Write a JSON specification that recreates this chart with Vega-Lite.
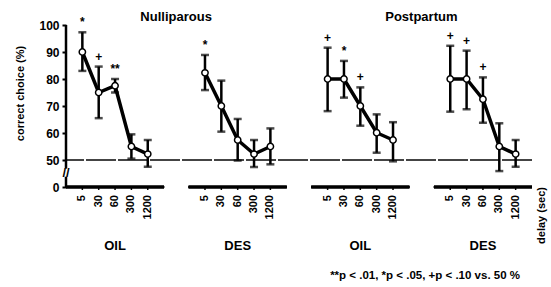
{
  "$schema": "https://vega.github.io/schema/vega-lite/v6.json",
  "autosize": {"type": "none"},
  "padding": {"left": 66, "top": 25, "right": 19, "bottom": 100},
  "width": 466,
  "height": 162,
  "background": "white",
  "config": {"view": {"stroke": null}, "font": "Liberation Sans"},
  "title": {"text": "**p < .01, *p < .05, +p < .10 vs. 50 %", "orient": "bottom", "anchor": "end", "frame": "group", "fontSize": 11.5, "fontWeight": "bold", "offset": 18, "dx": -12, "color": "black"},
  "data": {"values": [
    {"group": "Nulliparous OIL", "delay": 5, "mean": 90, "lo": 83, "hi": 97.3, "sig": "*"},
    {"group": "Nulliparous OIL", "delay": 30, "mean": 75, "lo": 65.5, "hi": 84.6, "sig": "+"},
    {"group": "Nulliparous OIL", "delay": 60, "mean": 77.5, "lo": 75, "hi": 80, "sig": "**"},
    {"group": "Nulliparous OIL", "delay": 300, "mean": 55, "lo": 50.5, "hi": 59.5, "sig": ""},
    {"group": "Nulliparous OIL", "delay": 1200, "mean": 52.2, "lo": 47.5, "hi": 57.4, "sig": ""},
    {"group": "Nulliparous DES", "delay": 5, "mean": 82.3, "lo": 75.9, "hi": 88.9, "sig": "*"},
    {"group": "Nulliparous DES", "delay": 30, "mean": 70, "lo": 60.5, "hi": 79.4, "sig": ""},
    {"group": "Nulliparous DES", "delay": 60, "mean": 57.4, "lo": 49.8, "hi": 65.2, "sig": ""},
    {"group": "Nulliparous DES", "delay": 300, "mean": 52.2, "lo": 47.4, "hi": 57.4, "sig": ""},
    {"group": "Nulliparous DES", "delay": 1200, "mean": 55, "lo": 48.4, "hi": 61.7, "sig": ""},
    {"group": "Postpartum OIL", "delay": 5, "mean": 80, "lo": 68.1, "hi": 91.6, "sig": "+"},
    {"group": "Postpartum OIL", "delay": 30, "mean": 80, "lo": 73.1, "hi": 86.7, "sig": "*"},
    {"group": "Postpartum OIL", "delay": 60, "mean": 70, "lo": 62.7, "hi": 76.9, "sig": "+"},
    {"group": "Postpartum OIL", "delay": 300, "mean": 60.1, "lo": 52.7, "hi": 66.9, "sig": ""},
    {"group": "Postpartum OIL", "delay": 1200, "mean": 57.4, "lo": 49.5, "hi": 64, "sig": ""},
    {"group": "Postpartum DES", "delay": 5, "mean": 80, "lo": 67.9, "hi": 92.3, "sig": "+"},
    {"group": "Postpartum DES", "delay": 30, "mean": 80, "lo": 68.8, "hi": 90.5, "sig": "+"},
    {"group": "Postpartum DES", "delay": 60, "mean": 72.5, "lo": 63.8, "hi": 80.6, "sig": "+"},
    {"group": "Postpartum DES", "delay": 300, "mean": 55, "lo": 45.9, "hi": 63.6, "sig": ""},
    {"group": "Postpartum DES", "delay": 1200, "mean": 52.2, "lo": 47.5, "hi": 57.4, "sig": ""}
  ]},
  "encoding": {
    "x": {"field": "group", "type": "nominal", "sort": ["Nulliparous OIL", "Nulliparous DES", "Postpartum OIL", "Postpartum DES"],
      "scale": {"type": "band", "paddingInner": 0.2, "paddingOuter": 0},
      "axis": {"domain": false, "ticks": false, "labelExpr": "split(datum.value, ' ')[1]", "labelPadding": 52, "labelFontSize": 13, "labelFontWeight": "bold", "labelColor": "black", "labelAngle": 0,
        "title": "delay (sec)", "titleAngle": 270, "titleX": 475, "titleY": 28, "titleAlign": "center", "titleBaseline": "middle", "titleFontSize": 11, "titleFontWeight": "bold", "titleColor": "black"}},
    "y": {"type": "quantitative", "scale": {"domain": [40, 100], "nice": false, "zero": false},
      "axis": {"domain": false, "grid": false, "values": [40, 50, 60, 70, 80, 90, 100], "labelExpr": "datum.value == 40 ? '0' : datum.label", "tickSize": 4, "tickWidth": 2, "tickColor": "black", "labelPadding": 3, "labelFontSize": 12, "labelFontWeight": "bold", "labelColor": "black",
        "title": "correct choice (%)", "titleAngle": 270, "titleX": -46, "titleY": 68, "titleAlign": "center", "titleBaseline": "middle", "titleFontSize": 11, "titleFontWeight": "bold", "titleColor": "black"}}
  },
  "layer": [
    {"mark": {"type": "rule", "stroke": "#444", "strokeWidth": 2, "strokeDash": [30, 2]}, "encoding": {"x": null, "y": {"datum": 50}}},
    {"mark": {"type": "rule", "stroke": "black", "strokeWidth": 2.5}, "encoding": {"x": {"field": "group", "type": "nominal", "bandPosition": 0}, "x2": {"field": "group", "bandPosition": 1}, "y": {"datum": 40}}},
    {"mark": {"type": "rule", "stroke": "black", "strokeWidth": 1.5}, "encoding": {"xOffset": {"field": "delay", "type": "ordinal", "scale": {"type": "point", "padding": 1}}, "y": {"datum": 40}, "y2": {"datum": 38.9}}},
    {"mark": {"type": "text", "angle": 270, "align": "right", "baseline": "middle", "yOffset": 8, "fontSize": 11, "fontWeight": "bold", "fill": "black"}, "encoding": {"xOffset": {"field": "delay", "type": "ordinal"}, "y": {"datum": 40}, "text": {"field": "delay"}}},
    {"data": {"values": [{"group": "Nulliparous OIL"}]}, "mark": {"type": "rule", "stroke": "black", "strokeWidth": 2.5}, "encoding": {"x": {"field": "group", "type": "nominal", "bandPosition": 0}, "y": {"datum": 100}, "y2": {"datum": 46.8}}},
    {"data": {"values": [{"group": "Nulliparous OIL"}]}, "mark": {"type": "rule", "stroke": "black", "strokeWidth": 2.5}, "encoding": {"x": {"field": "group", "type": "nominal", "bandPosition": 0}, "y": {"datum": 43.8}, "y2": {"datum": 40}}},
    {"data": {"values": [{"group": "Nulliparous OIL", "brk": "//"}]}, "mark": {"type": "text", "fontSize": 13, "fontWeight": "bold", "fill": "black", "align": "center", "baseline": "middle"}, "encoding": {"x": {"field": "group", "type": "nominal", "bandPosition": 0}, "y": {"datum": 45.3}, "text": {"field": "brk"}}},
    {"data": {"values": [{"group": "Nulliparous OIL", "label": "Nulliparous"}, {"group": "Postpartum OIL", "label": "Postpartum"}]}, "mark": {"type": "text", "fontSize": 13, "fontWeight": "bold", "fill": "black", "align": "center", "baseline": "middle", "dx": 12, "yOffset": -8}, "encoding": {"x": {"field": "group", "type": "nominal", "bandPosition": 1}, "y": {"datum": 100}, "text": {"field": "label"}}},
    {"mark": {"type": "rule", "stroke": "black", "strokeWidth": 2.5}, "encoding": {"xOffset": {"field": "delay", "type": "ordinal"}, "y": {"field": "lo", "type": "quantitative"}, "y2": {"field": "hi"}}},
    {"mark": {"type": "tick", "orient": "horizontal", "size": 8, "thickness": 2.5, "color": "black"}, "encoding": {"xOffset": {"field": "delay", "type": "ordinal"}, "y": {"field": "hi", "type": "quantitative"}}},
    {"mark": {"type": "tick", "orient": "horizontal", "size": 8, "thickness": 2.5, "color": "black"}, "encoding": {"xOffset": {"field": "delay", "type": "ordinal"}, "y": {"field": "lo", "type": "quantitative"}}},
    {"mark": {"type": "line", "stroke": "black", "strokeWidth": 3.5}, "encoding": {"xOffset": {"field": "delay", "type": "ordinal"}, "y": {"field": "mean", "type": "quantitative"}, "detail": {"field": "group"}, "order": {"field": "delay", "type": "quantitative"}}},
    {"mark": {"type": "point", "shape": "circle", "filled": true, "fill": "white", "stroke": "black", "strokeWidth": 1.5, "size": 40, "opacity": 1}, "encoding": {"xOffset": {"field": "delay", "type": "ordinal"}, "y": {"field": "mean", "type": "quantitative"}}},
    {"mark": {"type": "text", "fontSize": 12, "fontWeight": "bold", "fill": "black", "align": "center", "baseline": "middle", "yOffset": -10}, "encoding": {"xOffset": {"field": "delay", "type": "ordinal"}, "y": {"field": "hi", "type": "quantitative"}, "text": {"field": "sig"}}}
  ]
}
